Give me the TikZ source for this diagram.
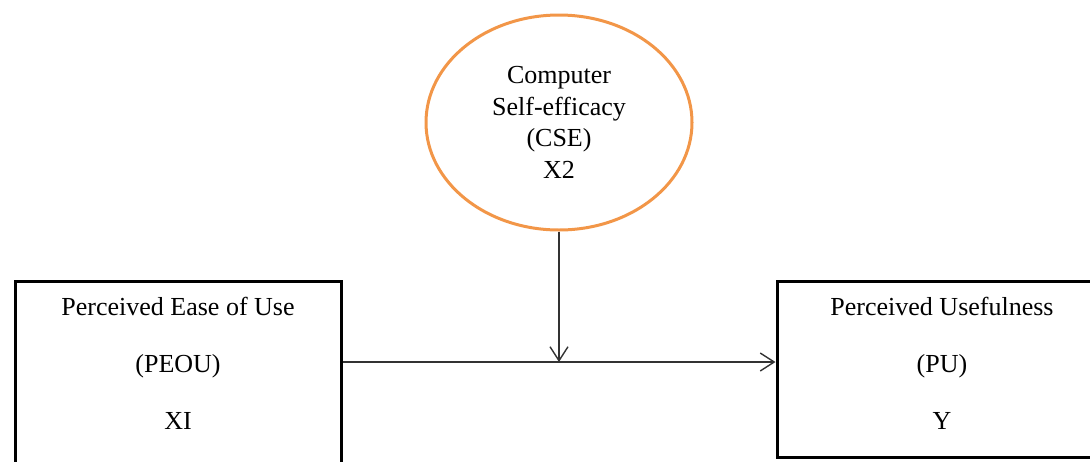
\documentclass[tikz,border=0pt]{standalone}
\usepackage{fontspec}
\setmainfont{Liberation Serif}
\usetikzlibrary{positioning,shapes.geometric,arrows.meta}
\definecolor{cseorange}{RGB}{242,150,72}
\begin{document}
\begin{tikzpicture}[x=1pt,y=-1pt,
  varbox/.style={draw, line width=3pt, rectangle, minimum width=326pt, anchor=north west},
  vartext/.style={align=center, font=\fontsize{26}{57}\selectfont},
  modbox/.style={draw=cseorange, line width=3pt, ellipse, minimum width=266pt, minimum height=215pt, align=center, font=\fontsize{26}{31.7}\selectfont},
  arr/.style={draw=black!80, line width=1.4pt, -{Straight Barb[length=14pt,width=18pt]}}]
  \clip (0,0) rectangle (1090,461);
  \node[varbox, minimum height=200pt] (PEOU) at (13.5,280) {};
  \node[varbox, minimum width=330pt, minimum height=176pt] (PU) at (775.5,280) {};
  \node[vartext, below=14pt of PEOU.north] (PEOUtxt) {Perceived Ease of Use\\(PEOU)\\XI};
  \node[vartext, below=14pt of PU.north] (PUtxt) {Perceived Usefulness\\(PU)\\Y};
  \node[modbox] (CSE) at (559,122.5) {Computer\\Self-efficacy\\(CSE)\\X2};
  \coordinate (hub) at ([yshift=-82pt]PEOU.north east);
  \draw[arr] (hub) -- (hub -| PU.west);
  \draw[arr] (CSE.south) -- (CSE.south |- hub);
\end{tikzpicture}
\end{document}
